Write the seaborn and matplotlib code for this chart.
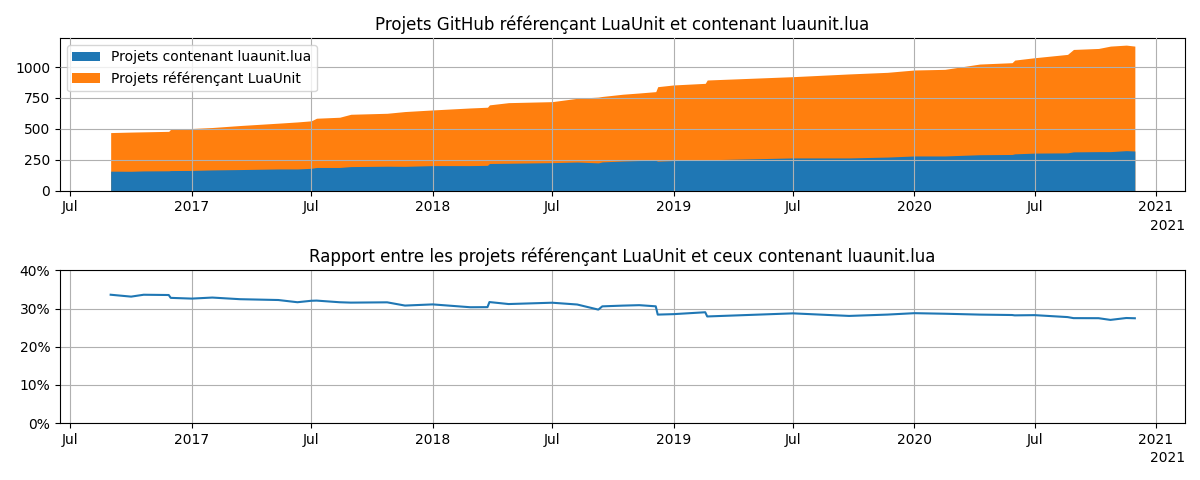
import numpy as np
import pandas as pd
import matplotlib
matplotlib.use("Agg")
import matplotlib.pyplot as plt
import matplotlib.dates as mdates
from matplotlib.ticker import PercentFormatter
import seaborn as sns

# values
dates = ["2016-08-31", "2016-10-01", "2016-10-20", "2016-11-27", "2016-11-30",
         "2017-01-01", "2017-02-01", "2017-03-15", "2017-05-12", "2017-06-10",
         "2017-07-01", "2017-07-09", "2017-08-13", "2017-08-30", "2017-10-24",
         "2017-11-20", "2018-01-01", "2018-02-27", "2018-03-25", "2018-03-28",
         "2018-04-26", "2018-07-01", "2018-08-08", "2018-09-09", "2018-09-15",
         "2018-10-16", "2018-11-10", "2018-12-05", "2018-12-08", "2019-01-01",
         "2019-02-18", "2019-02-21", "2019-07-01", "2019-09-24", "2019-11-21",
         "2020-01-01", "2020-02-16", "2020-04-09", "2020-05-28", "2020-06-01",
         "2020-07-01", "2020-08-20", "2020-08-29", "2020-10-06", "2020-10-24",
         "2020-11-17", "2020-11-30"]
referencing = [470, 474, 476, 480, 497,
               503, 511, 527, 546, 556,
               565, 586, 594, 618, 626,
               640, 653, 669, 675, 694,
               712, 720, 747, 757, 762,
               780, 790, 801, 841, 855,
               868, 895, 922, 944, 957,
               976, 981, 1024, 1035, 1056,
               1075, 1102, 1142, 1150, 1169,
               1177, 1169]
containing = [158, 157, 160, 161, 163,
              164, 168, 171, 176, 176,
              181, 188, 188, 195, 198,
              197, 203, 203, 205, 220,
              222, 227, 232, 225, 233,
              240, 244, 245, 239, 244,
              252, 250, 265, 265, 272,
              281, 281, 291, 293, 298,
              304, 306, 314, 316, 316,
              324, 321]
offset_label = "2021"

df = pd.DataFrame({"date": pd.to_datetime(dates),
                   "referencing": referencing,
                   "containing": containing})
df["ratio"] = df["containing"] / df["referencing"]

c_blue, c_orange = sns.color_palette("tab10")[:2]

fig, (ax1, ax2) = plt.subplots(2, 1, figsize=(12, 4.8), dpi=100)

h_ref = ax1.fill_between(df["date"], 0, df["referencing"], color=c_orange,
                         label="Projets référençant LuaUnit", linewidth=0)
h_con = ax1.fill_between(df["date"], 0, df["containing"], color=c_blue,
                         label="Projets contenant luaunit.lua", linewidth=0)
ax1.legend(handles=[h_con, h_ref], loc="upper left")
ax1.set_title("Projets GitHub référençant LuaUnit et contenant luaunit.lua")
ax1.set_ylim(bottom=0)
ax1.grid(True)
ax1.set_axisbelow(False)

sns.lineplot(data=df, x="date", y="ratio", ax=ax2, color=c_blue, linewidth=1.5)
ax2.set_title("Rapport entre les projets référençant LuaUnit et ceux contenant luaunit.lua")
ax2.set_ylim(0, 0.4)
ax2.set_yticks([0, 0.1, 0.2, 0.3, 0.4])
ax2.yaxis.set_major_formatter(PercentFormatter(1.0, decimals=0))
ax2.set_xlabel("")
ax2.set_ylabel("")
ax2.grid(True)

for ax in (ax1, ax2):
    loc = mdates.MonthLocator(bymonth=[1, 7])
    ax.xaxis.set_major_locator(loc)
    ax.xaxis.set_major_formatter(mdates.ConciseDateFormatter(loc))
    ax.set_xlim(pd.Timestamp("2016-06-15"), pd.Timestamp("2021-02-14"))
    ax.annotate(offset_label, xy=(1, 0), xycoords="axes fraction",
                xytext=(0, -20), textcoords="offset points",
                ha="right", va="top")

plt.tight_layout()
plt.savefig("out.png")
